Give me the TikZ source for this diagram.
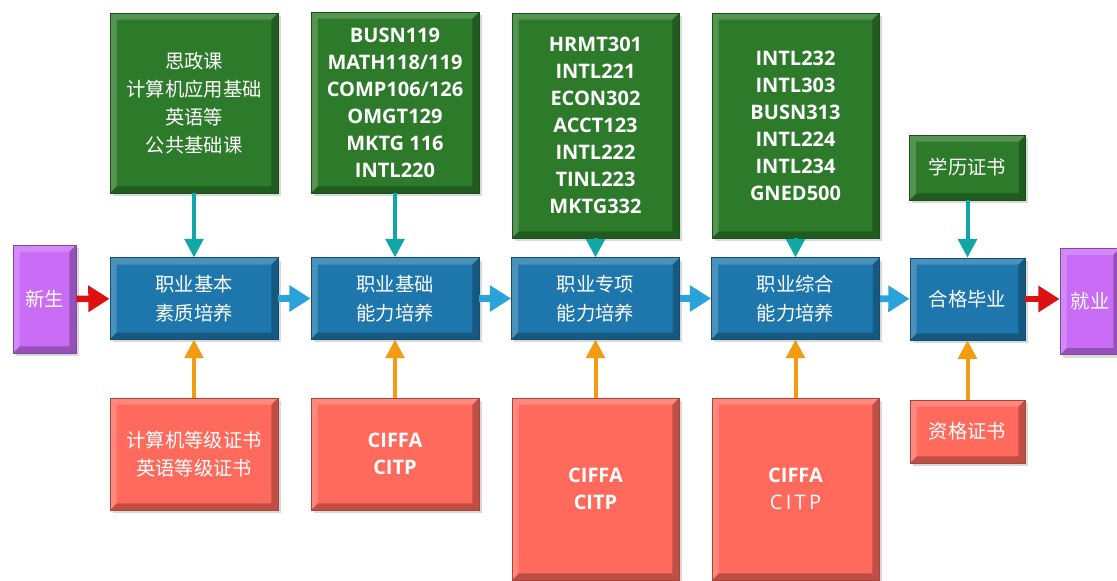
\documentclass[tikz,border=0pt]{standalone}
\usepackage{fontspec}
\setmainfont{Open Sans}
\newfontfamily\cjk{Noto Sans CJK SC}
\usetikzlibrary{arrows.meta,shadows}

\definecolor{stagebl}{HTML}{1D76AC}
\definecolor{coursegr}{HTML}{2C7A2A}
\definecolor{certrd}{HTML}{FF6A5C}
\definecolor{endpt}{HTML}{C96DF7}
\definecolor{feedtl}{HTML}{12A6A6}
\definecolor{feedor}{HTML}{F39C12}
\definecolor{flowbl}{HTML}{2AA2DA}
\definecolor{flowrd}{HTML}{DD1111}

\begin{document}
\begin{tikzpicture}[x=0.75pt,y=-0.75pt,
		bevel/.style={path picture={
			\path (path picture bounding box.north west) coordinate (bnw)
				(path picture bounding box.north east) coordinate (bne)
				(path picture bounding box.south west) coordinate (bsw)
				(path picture bounding box.south east) coordinate (bse);
			\fill[white,opacity=.2] (bsw) -- (bnw) -- (bne) -- ([shift={(-5pt,-5pt)}]bne) -- ([shift={(5pt,-5pt)}]bnw) -- ([shift={(5pt,5pt)}]bsw) -- cycle;
			\fill[black,opacity=.25] (bsw) -- (bse) -- (bne) -- ([shift={(-5pt,-5pt)}]bne) -- ([shift={(-5pt,5pt)}]bse) -- ([shift={(5pt,5pt)}]bsw) -- cycle;
		}},
		box/.style={draw=#1!65!black, line width=0.6pt, fill=#1, text=white, align=center, inner sep=2pt, bevel,
			drop shadow={opacity=.3, shadow xshift=2pt, shadow yshift=-2pt}},
		stage/.style={box=stagebl, font=\cjk\fontsize{14.5}{22}\selectfont},
		endbox/.style={box=endpt, font=\cjk\fontsize{14.5}{22}\selectfont},
		course/.style={box=coursegr, font=\bfseries\fontsize{15}{20.25}\selectfont},
		coursecn/.style={box=coursegr, font=\cjk\fontsize{14.5}{21}\selectfont},
		cert/.style={box=certrd, font=\bfseries\fontsize{15}{20.25}\selectfont},
		certcn/.style={box=certrd, font=\cjk\fontsize{14.5}{21}\selectfont},
		feed/.style={draw=#1, line width=3pt, -{Triangle[length=14pt,width=14pt]}},
		flow/.style={draw=#1, line width=5pt, -{Triangle[length=16pt,width=19pt]}}]
	\useasboundingbox (0,0) rectangle (1117,581);
	%entry, stages and exit
	\node[endbox, minimum width=47.25pt, minimum height=81pt] (start) at (44.5,299) {新生};
	\node[stage, minimum width=126pt, minimum height=61pt] (stage1) at (194,298.5) {职业基本\\素质培养};
	\node[stage, minimum width=126pt, minimum height=61pt] (stage2) at (395,298.5) {职业基础\\能力培养};
	\node[stage, minimum width=126pt, minimum height=61pt] (stage3) at (595.5,298.5) {职业专项\\能力培养};
	\node[stage, minimum width=126pt, minimum height=61pt] (stage4) at (795.5,298.5) {职业综合\\能力培养};
	\node[stage, minimum width=86.25pt, minimum height=61.5pt] (stage5) at (967.5,299) {合格毕业};
	\node[endbox, minimum width=45pt, minimum height=80pt] (finish) at (1090,301.5) {就业};
	%courses above
	\node[coursecn, minimum width=126pt, minimum height=135pt] (course1) at (194,103) {思政课\\计算机应用基础\\英语等\\公共基础课};
	\node[course, minimum width=126pt, minimum height=135.75pt] (course2) at (395,102.5) {BUSN119\\MATH118/119\\COMP106/126\\OMGT129\\MKTG 116\\INTL220};
	\node[course, minimum width=125.25pt, minimum height=168.75pt] (course3) at (595.5,125.5) {HRMT301\\INTL221\\ECON302\\ACCT123\\INTL222\\TINL223\\MKTG332};
	\node[course, minimum width=125.25pt, minimum height=168.75pt] (course4) at (795.5,125.5) {INTL232\\INTL303\\BUSN313\\INTL224\\INTL234\\GNED500};
	\node[coursecn, minimum width=87pt, minimum height=48.75pt] (course5) at (967.5,167.5) {学历证书};
	%certificates below
	\node[certcn, minimum width=126pt, minimum height=84pt] (cert1) at (194,454) {计算机等级证书\\英语等级证书};
	\node[cert, minimum width=126pt, minimum height=84pt] (cert2) at (395,454) {CIFFA\\CITP};
	\node[cert, minimum width=125.25pt, minimum height=136.5pt] (cert3) at (595.5,489) {CIFFA\\CITP};
	\node[cert, minimum width=125.25pt, minimum height=136.5pt] (cert4) at (795.5,489) {CIFFA\\{\mdseries C\,I\,T\,P}};
	\node[certcn, minimum width=86.25pt, minimum height=47.25pt] (cert5) at (967.5,431.5) {资格证书};
	%main flow
	\draw[flow=flowrd] (start) -- (stage1);
	\draw[flow=flowbl] (stage1) -- (stage2);
	\draw[flow=flowbl] (stage2) -- (stage3);
	\draw[flow=flowbl] (stage3) -- (stage4);
	\draw[flow=flowbl] (stage4) -- (stage5);
	\draw[flow=flowrd] (stage5.east) -- (stage5.east -| finish.west);
	%inputs from courses and certificates
	\foreach \i in {1,...,5}{
		\draw[feed=feedtl] (course\i) -- (stage\i);
		\draw[feed=feedor] (cert\i) -- (stage\i);
	}
\end{tikzpicture}
\end{document}
